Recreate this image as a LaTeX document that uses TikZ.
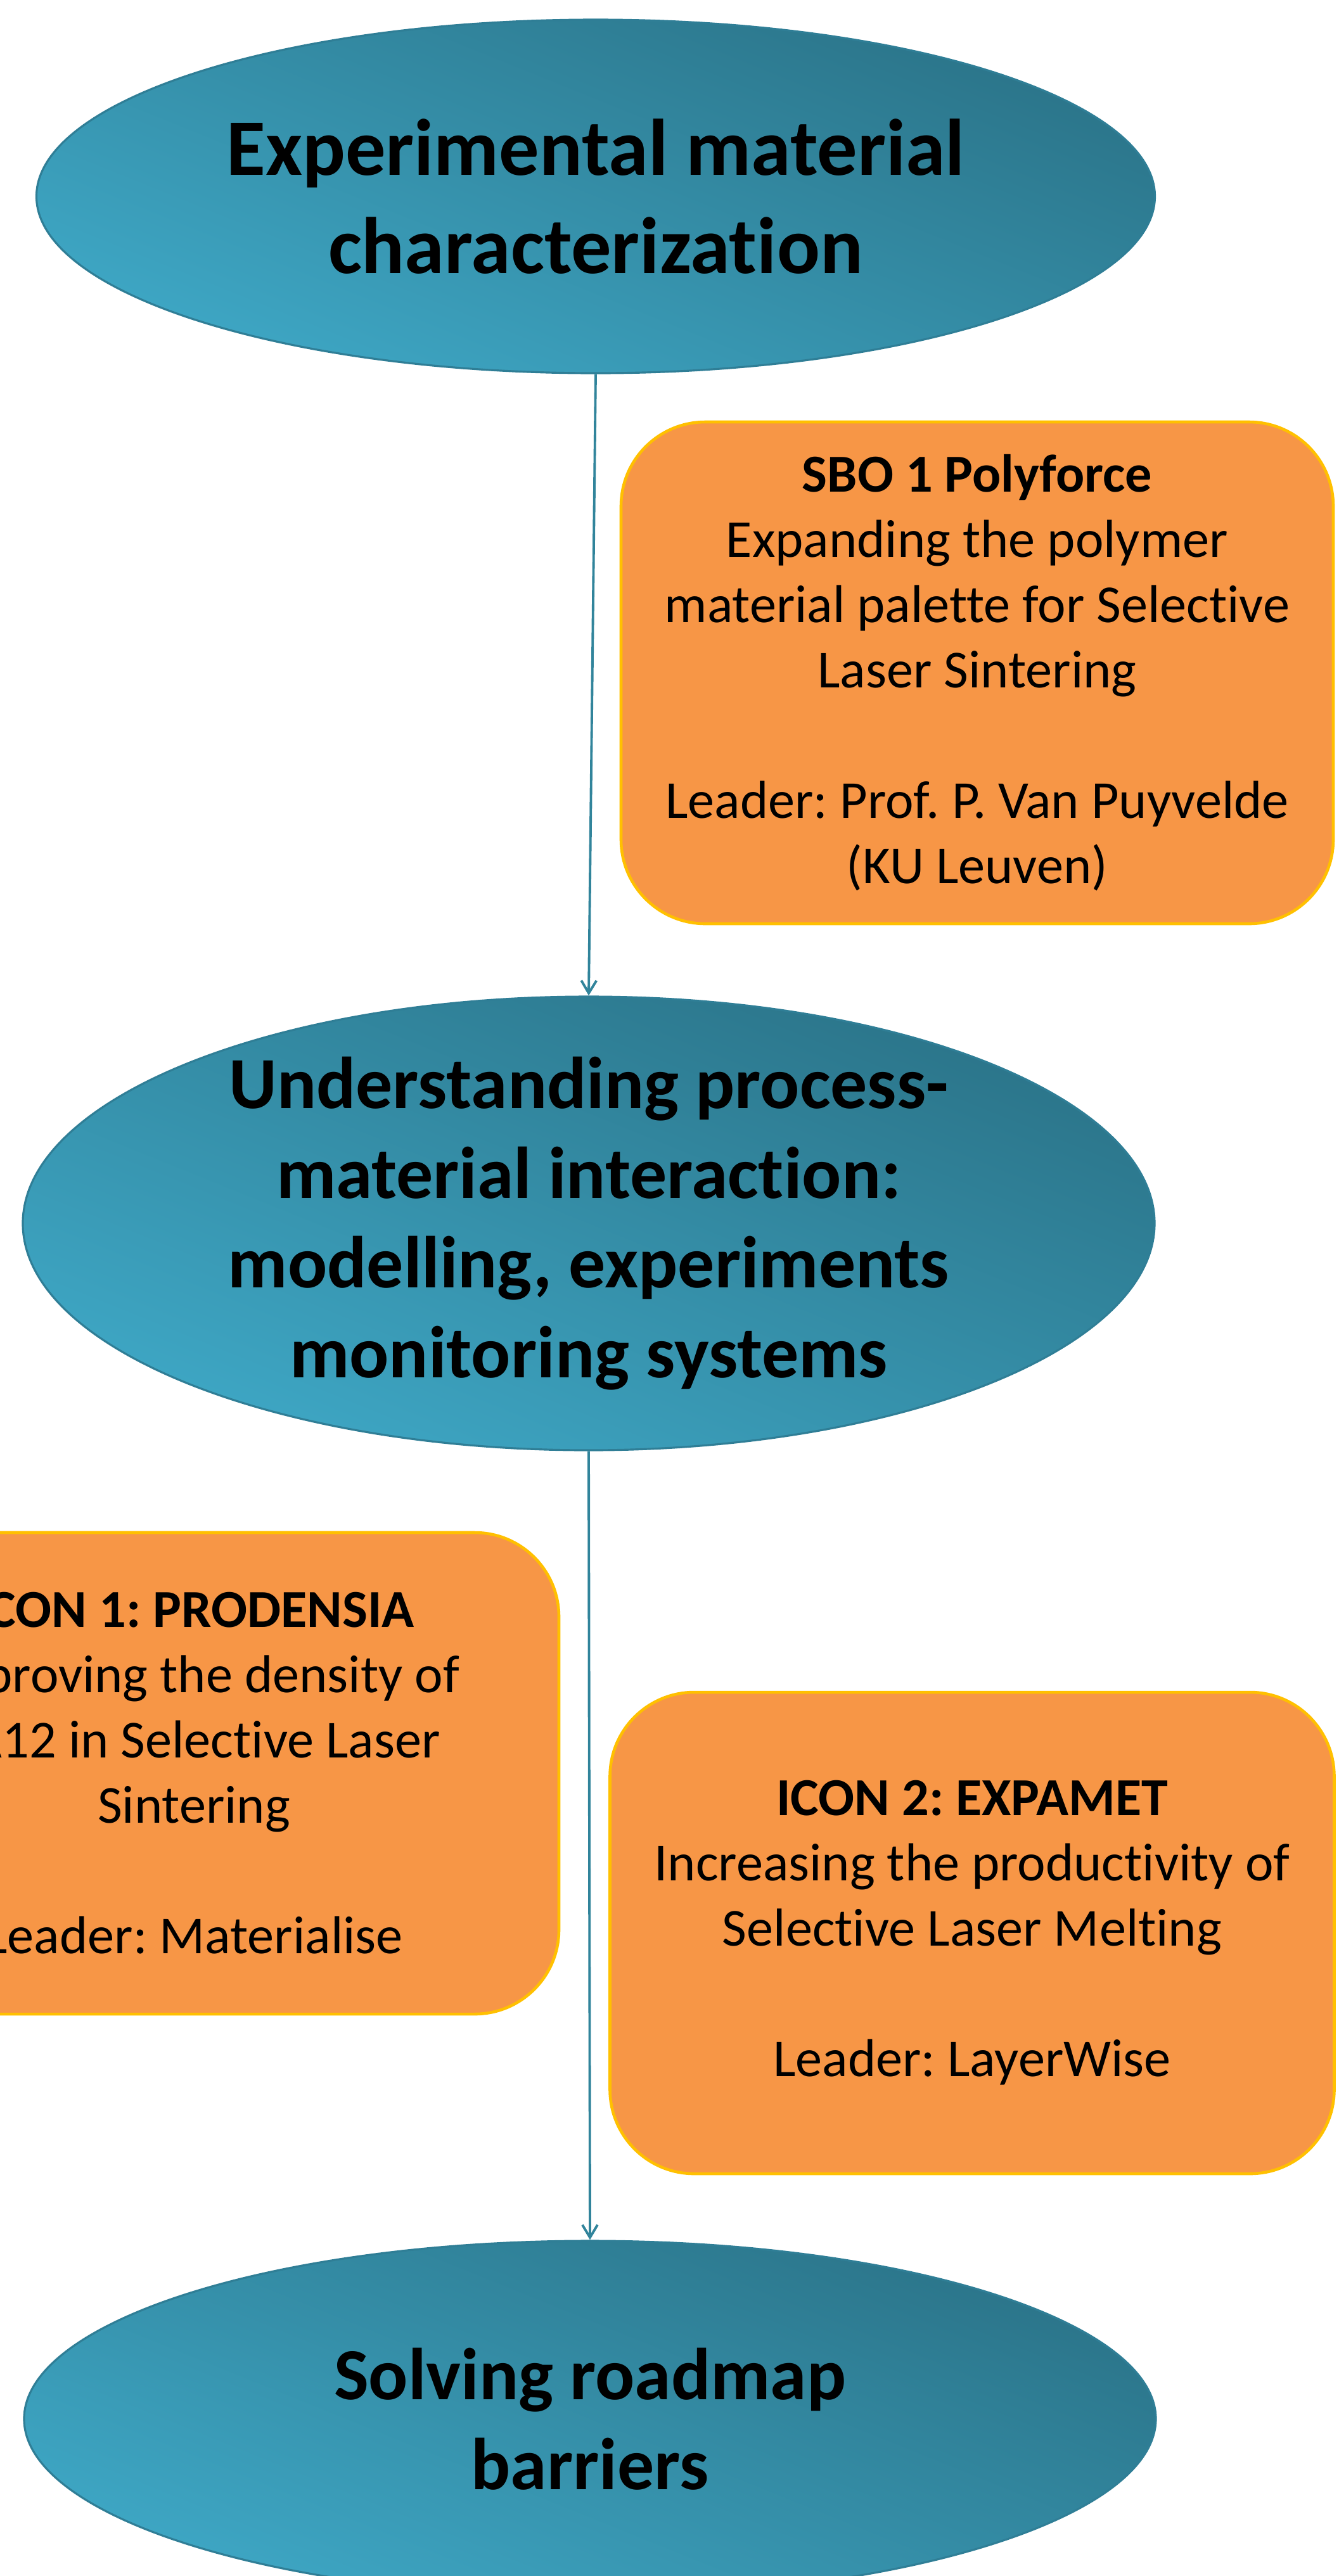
\documentclass[tikz,border=0pt]{standalone}
\usepackage{fontspec}
\setmainfont{Carlito}[Ligatures=NoCommon]
\frenchspacing
\usetikzlibrary{shapes.geometric,arrows.meta}
\definecolor{tealdark}{RGB}{43,116,137}
\definecolor{teallight}{RGB}{62,167,197}
\definecolor{tealline}{RGB}{47,126,150}
\definecolor{boxfill}{RGB}{247,150,70}
\definecolor{boxline}{RGB}{255,192,0}
\definecolor{arrowcol}{RGB}{49,132,155}
\begin{document}
\begin{tikzpicture}[>={Straight Barb[length=2mm,width=2.4mm]},
    goal/.style={ellipse, draw=tealline, line width=0.9pt,
                 top color=tealdark, bottom color=teallight, shading angle=-22,
                 inner sep=-4mm, align=center},
    project/.style={rounded corners=1.33cm, draw=boxline, line width=1.3pt,
                    fill=boxfill, inner sep=0pt, align=center,
                    font=\fontsize{24}{29.3}\selectfont},
    flow/.style={->, draw=arrowcol, line width=1.1pt}]
                % 0) page frame (the left box and the last ellipse are cut off)
                \useasboundingbox (0,0) rectangle (21.12,-40.66);
                \clip (0,0) rectangle (21.12,-40.66);
                % 1) the three ellipses of the main line
                \node[goal, minimum width=17.65cm, minimum height=5.58cm,
                      font=\fontsize{36}{44}\selectfont\bfseries]
                     (exp) at (9.40,-3.10) {Experimental material\\characterization};
                \node[goal, minimum width=17.86cm, minimum height=7.16cm,
                      font=\fontsize{33}{40.3}\selectfont\bfseries]
                     (proc) at (9.29,-19.31) {Understanding process-\\material interaction:\\modelling, experiments\\monitoring systems};
                \node[goal, minimum width=17.86cm, minimum height=5.62cm,
                      font=\fontsize{33}{40.3}\selectfont\bfseries]
                     (road) at (9.31,-38.18) {Solving roadmap\\barriers};
                % 2) the projects beside the arrows
                \node[project, minimum width=11.24cm, minimum height=7.92cm]
                     (sbo) at (15.42,-10.62) {\textbf{SBO 1 Polyforce}\\Expanding the polymer\\material palette for Selective\\Laser Sintering\\ \mbox{} \\Leader: Prof. P. Van Puyvelde\\(KU Leuven)};
                \node[project, minimum width=11.52cm, minimum height=7.60cm]
                     (icon1) at (3.06,-27.99) {\textbf{ICON 1: PRODENSIA}\\Improving the density of\\PA12 in Selective Laser\\Sintering\\ \mbox{} \\Leader: Materialise};
                \node[project, minimum width=11.43cm, minimum height=7.60cm]
                     (icon2) at (15.34,-30.51) {\textbf{ICON 2: EXPAMET}\\Increasing the productivity of\\Selective Laser Melting\\ \mbox{} \\Leader: LayerWise};
                % 3) arrows from one stage to the next
                \draw[flow] (exp.south) -- (proc.north);
                \draw[flow] (proc.south) -- (road.north);
\end{tikzpicture}
\end{document}
